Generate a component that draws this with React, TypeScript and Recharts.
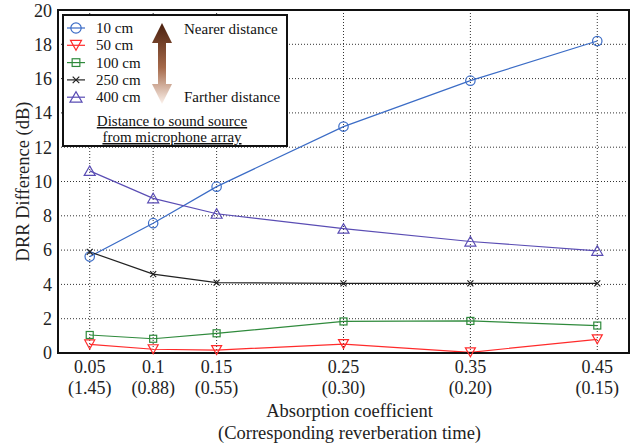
import React from "react";
import { LineChart, Line, XAxis, YAxis, CartesianGrid, ReferenceArea, Legend } from "recharts";

const FONT = '"Liberation Serif", "Times New Roman", serif';

// absorption coefficient (x) and corresponding reverberation time
const absorption = [0.05, 0.1, 0.15, 0.25, 0.35, 0.45];
const reverbTime = ["(1.45)", "(0.88)", "(0.55)", "(0.30)", "(0.20)", "(0.15)"];
const yTicks = [0, 2, 4, 6, 8, 10, 12, 14, 16, 18, 20];

// DRR difference (dB) per source distance
const drr10 = [5.62, 7.57, 9.7, 13.2, 15.88, 18.19];
const drr50 = [0.5, 0.22, 0.17, 0.52, 0.04, 0.8];
const drr100 = [1.05, 0.83, 1.15, 1.84, 1.87, 1.6];
const drr250 = [5.9, 4.6, 4.1, 4.06, 4.06, 4.06];
const drr400 = [10.62, 9.02, 8.12, 7.25, 6.5, 5.96];

const series = [
  { key: "d10", name: "10 cm", color: "#3b6cc6", shape: "circle" },
  { key: "d50", name: "50 cm", color: "#ff2b2b", shape: "down" },
  { key: "d100", name: "100 cm", color: "#2f8a3c", shape: "square" },
  { key: "d250", name: "250 cm", color: "#222222", shape: "cross" },
  { key: "d400", name: "400 cm", color: "#5a4db4", shape: "up" },
];

const rows = absorption.map((x, i) => ({
  x,
  d10: drr10[i],
  d50: drr50[i],
  d100: drr100[i],
  d250: drr250[i],
  d400: drr400[i],
}));

function Marker({ shape, cx, cy, color, s = 1 }: any) {
  const sw = 1.2;
  if (cx == null || cy == null) return null;
  switch (shape) {
    case "circle":
      return <circle cx={cx} cy={cy} r={4.7 * s} fill="none" stroke={color} strokeWidth={sw} />;
    case "down":
      return (
        <polygon
          points={`${cx - 5 * s},${cy - 4.5 * s} ${cx + 5 * s},${cy - 4.5 * s} ${cx},${cy + 4.5 * s}`}
          fill="none"
          stroke={color}
          strokeWidth={sw}
        />
      );
    case "up":
      return (
        <polygon
          points={`${cx - 5.5 * s},${cy + 4.5 * s} ${cx + 5.5 * s},${cy + 4.5 * s} ${cx},${cy - 5 * s}`}
          fill="none"
          stroke={color}
          strokeWidth={sw}
        />
      );
    case "square":
      return (
        <rect x={cx - 3.5 * s} y={cy - 3.5 * s} width={7 * s} height={7 * s} fill="none" stroke={color} strokeWidth={sw} />
      );
    default:
      return (
        <path
          d={`M${cx - 3 * s},${cy - 3 * s}L${cx + 3 * s},${cy + 3 * s}M${cx - 3 * s},${cy + 3 * s}L${cx + 3 * s},${cy - 3 * s}`}
          stroke={color}
          strokeWidth={sw}
        />
      );
  }
}

function XTick({ x, y, payload }: any) {
  const i = absorption.indexOf(payload.value);
  return (
    <g fontFamily={FONT} fontSize={18} fill="#222">
      <text x={x} y={y + 18} textAnchor="middle">{String(payload.value)}</text>
      <text x={x} y={y + 39} textAnchor="middle">{reverbTime[i]}</text>
    </g>
  );
}

function XLabel({ viewBox }: any) {
  const cx = viewBox.x + viewBox.width / 2 + 6;
  return (
    <g fontFamily={FONT} fontSize={18.5} fill="#222">
      <text x={cx} y={viewBox.y + 64} textAnchor="middle">Absorption coefficient</text>
      <text x={cx} y={viewBox.y + 86} textAnchor="middle">(Corresponding reverberation time)</text>
    </g>
  );
}

function YLabel({ viewBox }: any) {
  const cy = viewBox.y + viewBox.height / 2;
  return (
    <text
      x={29}
      y={cy}
      transform={`rotate(-90 29 ${cy})`}
      textAnchor="middle"
      fontFamily={FONT}
      fontSize={18.5}
      fill="#222"
    >
      DRR Difference (dB)
    </text>
  );
}

function LegendBox() {
  return (
    <svg width={226} height={133} style={{ display: "block" }} fontFamily={FONT} fontSize={15} fill="#111">
      <defs>
        <linearGradient id="arrowGrad" x1="0" y1="0" x2="0" y2="1">
          <stop offset="0%" stopColor="#4a200e" />
          <stop offset="55%" stopColor="#a5694a" />
          <stop offset="100%" stopColor="#fcf2ec" />
        </linearGradient>
      </defs>
      <rect x={1} y={1} width={224} height={131} fill="#fff" stroke="#111" strokeWidth={2} />
      {series.map((s, i) => {
        const cy = 14 + i * 17.3;
        return (
          <g key={s.key}>
            <line x1={5} x2={23} y1={cy} y2={cy} stroke={s.color} strokeWidth={1.2} />
            <Marker shape={s.shape} cx={14} cy={cy} color={s.color} s={1.1} />
            <text x={34} y={cy + 5}>{s.name}</text>
          </g>
        );
      })}
      <polygon
        points="100,9 110,29 104,29 104,70 110,70 100,90 90,70 96,70 96,29 90,29"
        fill="url(#arrowGrad)"
      />
      <text x={122} y={20}>Nearer distance</text>
      <text x={122} y={88}>Farther distance</text>
      <text x={110} y={112} textAnchor="middle" textDecoration="underline">Distance to sound source</text>
      <text x={110} y={128} textAnchor="middle" textDecoration="underline">from microphone array</text>
    </svg>
  );
}

export default function App() {
  return (
    <div style={{ position: "absolute", left: 0, top: 0, width: 644, height: 447, background: "#fff" }}>
      <LineChart width={644} height={447} data={rows} margin={{ top: 10, right: 15, left: 0, bottom: 0 }}>
        <CartesianGrid stroke="#333" strokeDasharray="1 2" strokeWidth={1} />
        <XAxis
          dataKey="x"
          type="number"
          domain={[0.025, 0.475]}
          ticks={absorption}
          allowDataOverflow
          height={94}
          tickSize={0}
          tickLine={false}
          tick={<XTick />}
          axisLine={{ stroke: "#111", strokeWidth: 2 }}
          label={<XLabel />}
        />
        <YAxis
          type="number"
          domain={[0, 20]}
          ticks={yTicks}
          width={58}
          tickSize={4}
          tickMargin={2}
          tickLine={false}
          axisLine={{ stroke: "#111", strokeWidth: 2 }}
          tick={{ fontFamily: FONT, fontSize: 18, fill: "#222" }}
          label={<YLabel />}
        />
        <ReferenceArea x1={0.025} x2={0.475} y1={0} y2={20} fill="none" stroke="#111" strokeWidth={2} ifOverflow="visible" />
        {series.map((s) => (
          <Line
            key={s.key}
            dataKey={s.key}
            name={s.name}
            type="linear"
            stroke={s.color}
            strokeWidth={1.2}
            isAnimationActive={false}
            dot={(p: any) => <Marker key={`${s.key}-${p.index}`} shape={s.shape} cx={p.cx} cy={p.cy} color={s.color} />}
          />
        ))}
        <Legend
          layout="vertical"
          align="center"
          verticalAlign="middle"
          wrapperStyle={{ left: 62, top: 14, width: 226, height: 133 }}
          content={() => <LegendBox />}
        />
      </LineChart>
    </div>
  );
}
